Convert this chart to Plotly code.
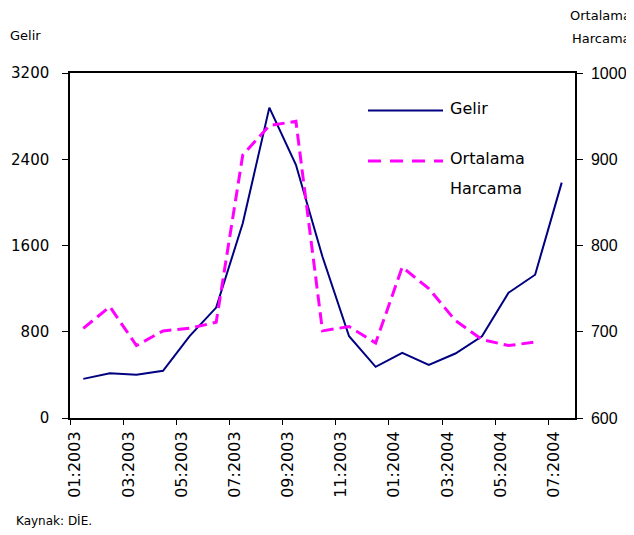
import plotly.graph_objects as go

# ---- data ----
months = ["01:2003", "02:2003", "03:2003", "04:2003", "05:2003", "06:2003",
          "07:2003", "08:2003", "09:2003", "10:2003", "11:2003", "12:2003",
          "01:2004", "02:2004", "03:2004", "04:2004", "05:2004", "06:2004",
          "07:2004"]
gelir = [363, 416, 401, 438, 760, 1024, 1806, 2879, 2349, 1495, 758, 475,
         604, 493, 598, 758, 1162, 1329, 2183]
harcama = [704, 729, 684, 701, 704, 711, 905, 939, 944, 701, 706, 687,
           775, 750, 713, 691, 684, 688, None]
left_ticks = [0, 800, 1600, 2400, 3200]
right_ticks = [600, 700, 800, 900, 1000]

# page body margin offset (browser default)
O = 8
W, H = 634 - O, 535 - O
# target plot area in screen pixels: x 70..575, y 73..418
L, T = 70 - O, 73 - O
R = W - (575 - O)
B = H - (418 - O)
PW, PH = W - L - R, H - T - B


def px(x):
    return (x - O - L) / PW


def py(y):
    return (H - B - (y - O)) / PH


idx = list(range(len(months)))
label_idx = idx[::2]

fig = go.Figure()
fig.add_trace(go.Scatter(x=idx, y=gelir, mode="lines", name="Gelir",
                         line=dict(color="#000080", width=2),
                         showlegend=False))
fig.add_trace(go.Scatter(x=idx[:len(harcama)], y=harcama, mode="lines",
                         name="Ortalama Harcama", yaxis="y2",
                         line=dict(color="#FF00FF", width=3, dash="12px,6px"),
                         showlegend=False))

font_main = "DejaVu Sans"

fig.update_layout(
    width=W, height=H,
    margin=dict(l=L, r=R, t=T, b=B, pad=0, autoexpand=False),
    paper_bgcolor="white", plot_bgcolor="white",
    font=dict(family=font_main, size=15, color="black"),
    xaxis=dict(
        automargin=False,
        range=[-0.5, len(months) - 0.5],
        tickmode="array", tickvals=label_idx,
        ticktext=[months[i] for i in label_idx],
        tickangle=-90, ticks="", ticklabelshift=-8, ticklabelstandoff=5,
        tickfont=dict(family=font_main, size=16),
        minor=dict(tickmode="array",
                   tickvals=[i - 0.5 for i in label_idx],
                   ticks="outside", ticklen=5, tickcolor="black",
                   tickwidth=1, showgrid=False),
        showgrid=False, zeroline=False,
        showline=True, linecolor="black", linewidth=2, mirror=True,
    ),
    yaxis=dict(
        automargin=False,
        range=[0, 3200], tickmode="array", tickvals=left_ticks,
        ticks="outside", ticklen=6, tickcolor="black",
        showgrid=False, zeroline=False,
        showline=True, linecolor="black", linewidth=1.5,
        tickfont=dict(family=font_main, size=15),
        ticklabelstandoff=10,
    ),
    yaxis2=dict(
        automargin=False,
        range=[600, 1000], tickmode="array", tickvals=right_ticks,
        overlaying="y", side="right",
        ticks="outside", ticklen=6, tickcolor="black",
        showgrid=False, zeroline=False,
        showline=True, linecolor="black", linewidth=1.5,
        tickfont=dict(family="Liberation Sans", size=16),
        ticklabelstandoff=5,
    ),
    showlegend=False,
)

# manual legend
fig.add_shape(type="line", xref="paper", yref="paper",
              x0=px(368), x1=px(443), y0=py(110.5), y1=py(110.5),
              line=dict(color="#000080", width=2))
fig.add_shape(type="line", xref="paper", yref="paper",
              x0=px(368), x1=px(443), y0=py(161), y1=py(161),
              line=dict(color="#FF00FF", width=3, dash="13px,9px"))

annots = [
    ("Gelir", 448, 109, "left", 16),
    ("Ortalama", 448, 158, "left", 16),
    ("Harcama", 448, 188, "left", 16),
    ("Gelir", 25, 35, "center", 13),
    ("Ortalama", 600, 15, "center", 13),
    ("Harcama", 601, 38, "center", 13),
    ("Kaynak: DİE.", 14, 520, "left", 12),
]
for text, x, y, anchor, size in annots:
    fig.add_annotation(text=text, xref="paper", yref="paper",
                       x=px(x), y=py(y), xanchor=anchor, yanchor="middle",
                       showarrow=False,
                       font=dict(family=font_main, size=size, color="black"))

fig.write_html("out.html")
